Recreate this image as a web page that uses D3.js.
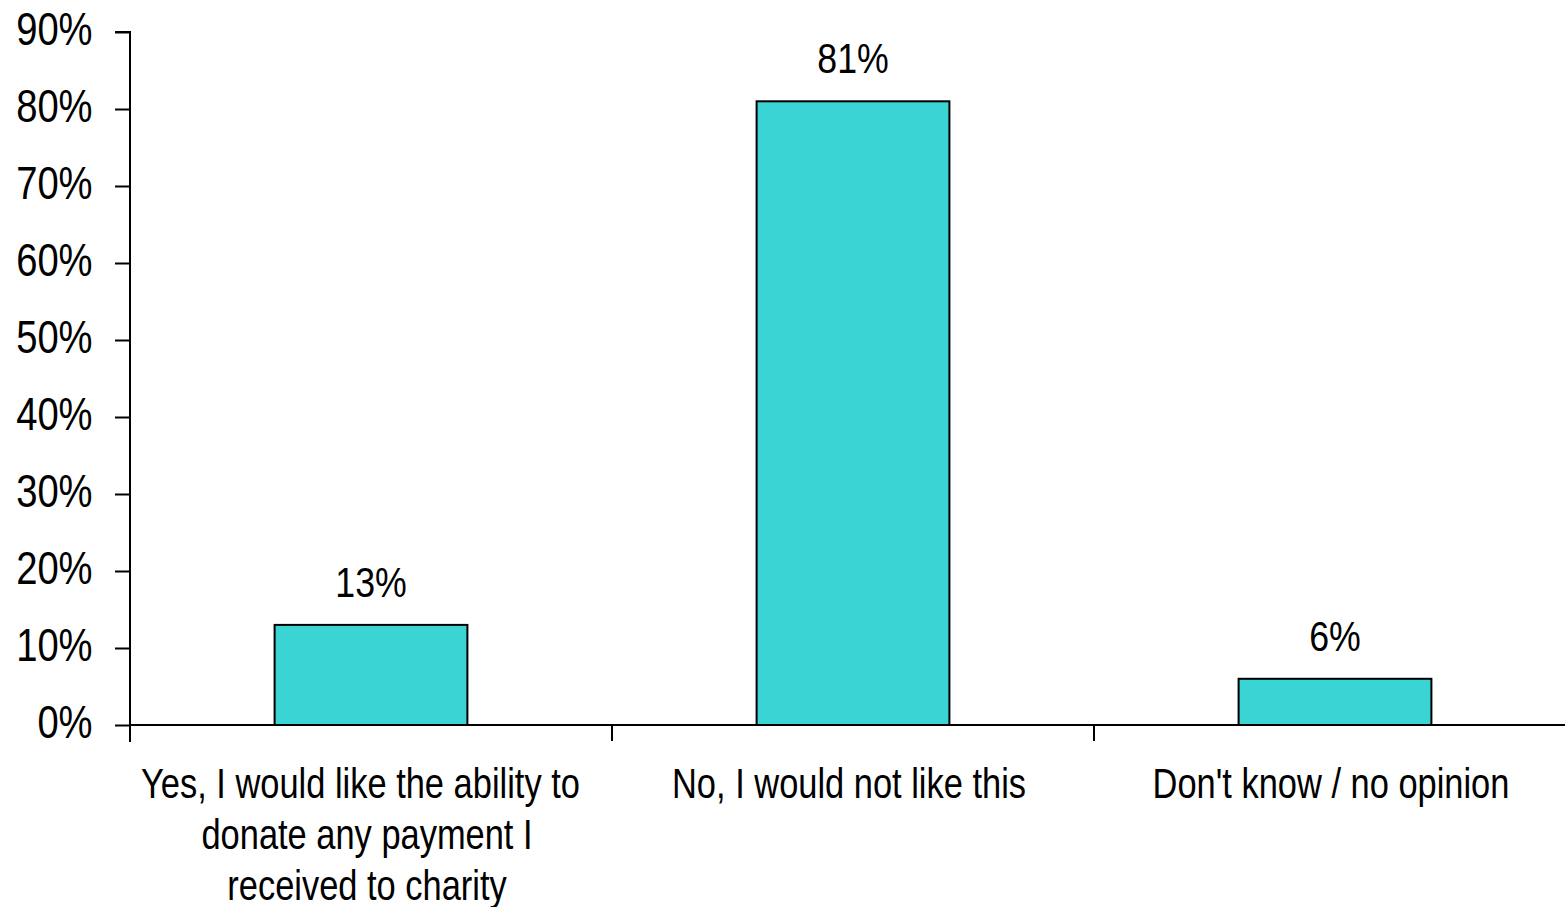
<!DOCTYPE html>
<html>
<head>
<meta charset="utf-8">
<script src="https://cdn.jsdelivr.net/npm/d3@7"></script>
<style>
  html, body { margin: 0; padding: 0; background: #fff; }
  svg { display: block; }
  text { font-family: "Liberation Sans", Arial, sans-serif; fill: #000; }
</style>
</head>
<body>
<svg id="chart" width="1565" height="907"></svg>
<script>
// Survey responses (share of respondents)
const categories = [
  ["Yes, I would like the ability to", "donate any payment I", "received to charity"],
  ["No, I would not like this"],
  ["Don't know / no opinion"]
];
const values = [0.13, 0.81, 0.06];
const yTicks = [0, 0.1, 0.2, 0.3, 0.4, 0.5, 0.6, 0.7, 0.8, 0.9];

const W = 1565, H = 907;
const margin = { left: 130, top: 32, bottom: 182 };
const plotRight = 1576;
const y0 = H - margin.bottom;
const narrow = 0.82;   // horizontal squeeze to get a narrow face

const svg = d3.select("#chart");

const keys = categories.map((c, i) => i);
const x = d3.scaleBand().domain(keys).range([margin.left, plotRight]).paddingInner(0).paddingOuter(0);
const y = d3.scaleLinear().domain([0, 0.9]).range([y0, margin.top]);

const barW = x.bandwidth() * 0.4;

// Bars
svg.append("g").selectAll("rect")
  .data(values)
  .join("rect")
  .attr("x", (d, i) => x(i) + (x.bandwidth() - barW) / 2)
  .attr("y", d => y(d))
  .attr("width", barW)
  .attr("height", d => y0 - y(d))
  .attr("fill", "#3AD4D4")
  .attr("stroke", "#000")
  .attr("stroke-width", 2);

// Value labels
svg.append("g").selectAll("text")
  .data(values)
  .join("text")
  .attr("transform", (d, i) => `translate(${x(i) + x.bandwidth() / 2},${y(d) - 28}) scale(${narrow + 0.03},1)`)
  .attr("text-anchor", "middle")
  .attr("font-size", 42)
  .text(d => d3.format(".0%")(d));

// Y axis
const tickLen = 15, pad = 22;
const yAxis = d3.axisLeft(y)
  .tickValues(yTicks)
  .tickFormat(d3.format(".0%"))
  .tickSize(tickLen)
  .tickPadding(pad);
const gy = svg.append("g").attr("transform", `translate(${margin.left},0)`).call(yAxis);
gy.select(".domain").attr("d", `M-${tickLen},${margin.top}H0V${y0 + 17}`).attr("stroke-width", 2);
gy.selectAll(".tick line").attr("stroke-width", 2);
gy.selectAll(".tick text")
  .attr("font-size", 46)
  .attr("x", -(tickLen + pad) / narrow)
  .attr("dy", "0.27em")
  .attr("transform", `scale(${narrow + 0.01},1)`);

// X axis baseline and category separators
const gx = svg.append("g").attr("transform", `translate(0,${y0})`);
gx.append("line").attr("x1", margin.left).attr("x2", W).attr("y1", 0).attr("y2", 0)
  .attr("stroke", "#000").attr("stroke-width", 2);
gx.selectAll("line.sep")
  .data(keys)
  .join("line")
  .attr("class", "sep")
  .attr("x1", d => x(d)).attr("x2", d => x(d))
  .attr("y1", 0).attr("y2", 16)
  .attr("stroke", "#000").attr("stroke-width", 2);

// Category labels
const lbl = svg.append("g").selectAll("text")
  .data(categories)
  .join("text")
  .attr("text-anchor", "middle")
  .attr("font-size", 42)
  .attr("transform", (d, i) => `translate(${x(i) + x.bandwidth() / 2 - 4},${y0 + 73}) scale(${narrow},1)`);
lbl.selectAll("tspan")
  .data(d => d)
  .join("tspan")
  .attr("x", (d, j) => (j === 0 && d.length > 26) ? -8 : 0)
  .attr("dy", (d, j) => j === 0 ? 0 : 51)
  .text(d => d);
</script>
</body>
</html>
